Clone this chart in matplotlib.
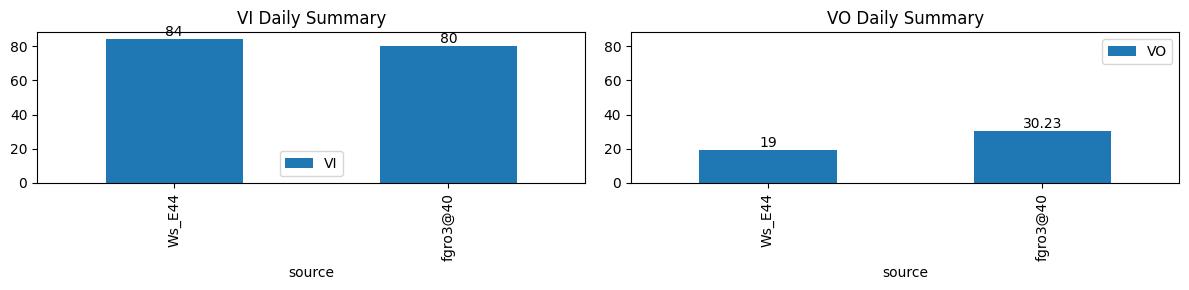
import matplotlib
matplotlib.use("Agg")
import matplotlib.pyplot as plt
import pandas as pd

sources = ["Ws_E44", "fgro3@40"]
vi_values = [84, 80]
vo_values = [19, 30.23]

vi = pd.DataFrame({"source": sources, "VI": vi_values}).set_index("source")
vo = pd.DataFrame({"source": sources, "VO": vo_values}).set_index("source")

fig, axes = plt.subplots(1, 2, figsize=(11.89, 2.9), dpi=100)

vi.plot(kind="bar", ax=axes[0], title="VI Daily Summary")
axes[0].legend(loc="lower center")
vo.plot(kind="bar", ax=axes[1], title="VO Daily Summary")
axes[1].legend(loc="upper right")

# same y range on both panels
ymax = max(vi_values + vo_values) * 1.05
for ax in axes:
    ax.set_ylim(0, ymax)
    for c in ax.containers:
        ax.bar_label(c)

plt.tight_layout(pad=0.7, w_pad=1.3)
plt.savefig("out.png")
